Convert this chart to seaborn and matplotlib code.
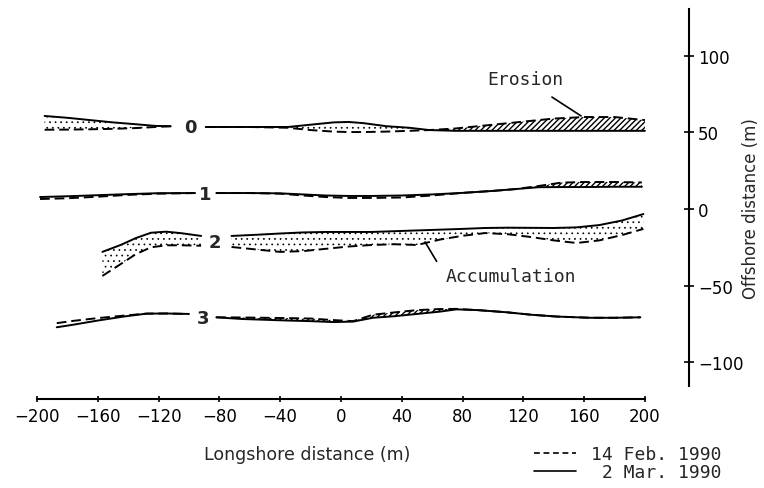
import matplotlib
matplotlib.use("Agg")
import matplotlib.pyplot as plt
from matplotlib.lines import Line2D
import numpy as np
import pandas as pd
import seaborn as sns

# ---------------- data ----------------
feb = "14 Feb. 1990"
mar = "2 Mar. 1990"

# contour 0
x0L = [-195, -180, -165, -150, -135, -122, -112]
mar0L = [60.7, 59.5, 58.0, 56.5, 55.3, 54.2, 54.0]
feb0L = [51.7, 51.8, 52.0, 52.3, 52.8, 53.5, 54.0]
x0R = [-89, -60, -35, -20, -5, 5, 15, 30, 45, 58, 75, 90, 105, 120, 140, 160, 180, 200]
mar0R = [53.5, 53.5, 53.5, 55.0, 56.5, 56.8, 56.0, 54.0, 53.0, 51.5, 51.0, 51.0, 51.0, 51.0, 51.0, 51.0, 51.0, 51.0]
feb0R = [53.5, 53.5, 53.0, 51.5, 50.5, 50.2, 50.2, 50.5, 51.0, 51.5, 52.5, 54.0, 55.5, 57.0, 59.0, 60.0, 60.0, 58.0]

# contour 1
x1L = [-198, -180, -160, -140, -120, -96]
mar1L = [7.8, 8.3, 9.0, 9.7, 10.3, 10.4]
feb1L = [6.5, 7.0, 8.0, 9.2, 10.0, 10.4]
x1R = [-82, -60, -40, -25, -10, 5, 20, 40, 60, 80, 100, 115, 130, 145, 160, 180, 198]
mar1R = [10.4, 10.4, 10.2, 9.5, 8.8, 8.5, 8.5, 8.8, 9.5, 10.5, 11.8, 13.0, 14.2, 14.3, 14.3, 14.5, 14.5]
feb1R = [10.4, 10.4, 10.0, 8.8, 7.8, 7.2, 7.2, 7.5, 8.8, 10.5, 11.8, 13.0, 15.0, 17.2, 17.6, 17.6, 17.3]

# contour 2
x2L = [-157, -145, -135, -125, -115, -105, -92]
mar2L = [-28.0, -23.5, -19.0, -15.5, -14.8, -15.8, -17.6]
feb2L = [-43.7, -36.0, -29.5, -25.0, -23.7, -23.7, -24.0]
x2R = [-72, -55, -40, -25, -10, 5, 20, 35, 50, 65, 80, 95, 110, 125, 140, 155, 170, 185, 199]
mar2R = [-17.6, -16.8, -16.0, -15.3, -15.0, -15.0, -15.0, -14.5, -14.0, -13.5, -13.0, -12.4, -12.2, -12.3, -12.4, -12.0, -10.5, -7.5, -3.3]
feb2R = [-24.8, -26.5, -28.0, -27.5, -26.0, -24.5, -23.5, -23.0, -23.5, -20.0, -17.5, -15.7, -16.5, -18.3, -20.5, -22.2, -20.5, -17.0, -13.0]

# contour 3
x3L = [-187, -176, -160, -143, -128, -115, -100]
mar3L = [-77.2, -75.5, -72.8, -70.2, -68.3, -68.2, -68.5]
feb3L = [-74.5, -73.0, -71.2, -69.6, -68.3, -68.2, -68.5]
x3R = [-82, -65, -50, -35, -20, -5, 8, 21, 35, 50, 65, 76, 90, 109, 125, 142, 164, 180, 197]
mar3R = [-70.7, -71.8, -72.3, -72.8, -73.2, -73.8, -73.5, -71.0, -70.0, -68.5, -67.0, -65.5, -66.0, -67.4, -69.0, -70.2, -71.0, -71.0, -70.7]
feb3R = [-70.7, -70.8, -71.0, -71.2, -71.5, -72.5, -73.2, -69.0, -67.5, -66.0, -65.3, -65.2, -66.0, -67.4, -69.0, -70.2, -71.0, -71.0, -70.7]

contour_labels = ["0", "1", "2", "3"]
label_x = [-99, -89.5, -83, -90.6]
label_y = [53.5, 9.8, -21.5, -71.0]

x_ticks = [-200, -160, -120, -80, -40, 0, 40, 80, 120, 160, 200]
y_ticks = [-100, -50, 0, 50, 100]

# segments: (name, x, feb, mar, shaded)
segments = [
    ("0L", x0L, feb0L, mar0L, True), ("0R", x0R, feb0R, mar0R, True),
    ("1L", x1L, feb1L, mar1L, True), ("1R", x1R, feb1R, mar1R, True),
    ("2L", x2L, feb2L, mar2L, True), ("2R", x2R, feb2R, mar2R, True),
    ("3L", x3L, feb3L, mar3L, False), ("3R", x3R, feb3R, mar3R, True),
]

rows = []
for name, xs, fy, my, _ in segments:
    for xv, yv in zip(xs, fy):
        rows.append({"x": xv, "y": yv, "date": feb, "unit": name + "F"})
    for xv, yv in zip(xs, my):
        rows.append({"x": xv, "y": yv, "date": mar, "unit": name + "M"})
df = pd.DataFrame(rows)

# ---------------- plot ----------------
sns.set_theme(style="white")
plt.rcParams["font.family"] = ["DejaVu Sans"]
plt.rcParams["hatch.linewidth"] = 1.0
plt.rcParams["axes.unicode_minus"] = True

fig = plt.figure(figsize=(7.64, 4.89), dpi=100)
ax = fig.add_axes([37 / 764, 1 - 400 / 489, (689 - 37) / 764, (400 - 10) / 489])

sns.lineplot(data=df, x="x", y="y", style="date", units="unit", estimator=None,
             style_order=[feb, mar], dashes={feb: (5, 2.5), mar: ""},
             color="black", linewidth=1.4, sort=False, legend=False, ax=ax)

for name, xs, fy, my, shaded in segments:
    if not shaded:
        continue
    xa, fa, ma = np.array(xs), np.array(fy), np.array(my)
    with plt.rc_context({"hatch.linewidth": 0.5}):
        acc = ax.fill_between(xa, fa, ma, where=ma >= fa, interpolate=True,
                              facecolor="none", edgecolor="black", hatch="...",
                              linewidth=0)
    if hasattr(acc, "set_hatch_linewidth"):
        acc.set_hatch_linewidth(0.5)
    ax.fill_between(xa, ma, fa, where=fa > ma, interpolate=True,
                    facecolor="none", edgecolor="black", hatch="//////", linewidth=0)

for t, lx, ly in zip(contour_labels, label_x, label_y):
    ax.text(lx, ly, t, ha="center", va="center", fontsize=13, fontweight="bold")

mono = "DejaVu Sans Mono"
ax.annotate("Erosion", xy=(158, 60.7), xytext=(121, 84.5), ha="center", va="center",
            fontsize=13, family=mono,
            arrowprops=dict(arrowstyle="-", color="black", lw=1.2,
                            shrinkA=7, shrinkB=0))
ax.annotate("Accumulation", xy=(55.3, -21.5), xytext=(111.8, -44), ha="center", va="center",
            fontsize=13, family=mono,
            arrowprops=dict(arrowstyle="-", color="black", lw=1.2,
                            shrinkA=8, shrinkB=0, relpos=(0.0, 0.5)))

ax.set_xlim(-200, 229)
ax.set_ylim(-124, 130.5)
ax.set_xticks(x_ticks)
ax.set_yticks(y_ticks)
ax.set_xticklabels([str(v).replace("-", "\u2212") for v in x_ticks])
ax.set_yticklabels([str(v).replace("-", "\u2212") for v in y_ticks])

for s in ["left", "top"]:
    ax.spines[s].set_visible(False)
for s in ["right", "bottom"]:
    ax.spines[s].set_visible(True)
    ax.spines[s].set_linewidth(1.5)
    ax.spines[s].set_color("black")
ax.spines["bottom"].set_bounds(-200, 200)
ax.spines["right"].set_bounds(-115.5, 130.5)

ax.yaxis.tick_right()
ax.yaxis.set_label_position("right")
ax.tick_params(axis="x", direction="inout", length=5, width=1.2, colors="black",
               labelsize=12, pad=3, bottom=True)
ax.tick_params(axis="y", direction="inout", length=7, width=1.2, colors="black",
               labelsize=12, pad=3, right=True, left=False)

ax.set_xlabel("Longshore distance (m)", fontsize=12.5)
ax.xaxis.set_label_coords(0.414, -0.141)
ax.xaxis.label.set(va="center", ha="center")
ax.set_ylabel("Offshore distance (m)", fontsize=12)
ax.yaxis.set_label_coords(1.095, 0.492)
ax.yaxis.label.set(va="center", ha="center", rotation_mode="default")

handles = [Line2D([], [], color="black", lw=1.2, dashes=(3.5, 2.2)),
           Line2D([], [], color="black", lw=1.2)]
ax.legend(handles, ["14 Feb. 1990", " 2 Mar. 1990"], loc="upper left",
          bbox_to_anchor=(534 / 764, 1 - 446 / 489), bbox_transform=fig.transFigure,
          frameon=False, prop={"family": mono, "size": 13}, handlelength=2.3,
          handletextpad=0.85, labelspacing=0.0, borderpad=0, borderaxespad=0)

fig.savefig("out.png", dpi=100)
